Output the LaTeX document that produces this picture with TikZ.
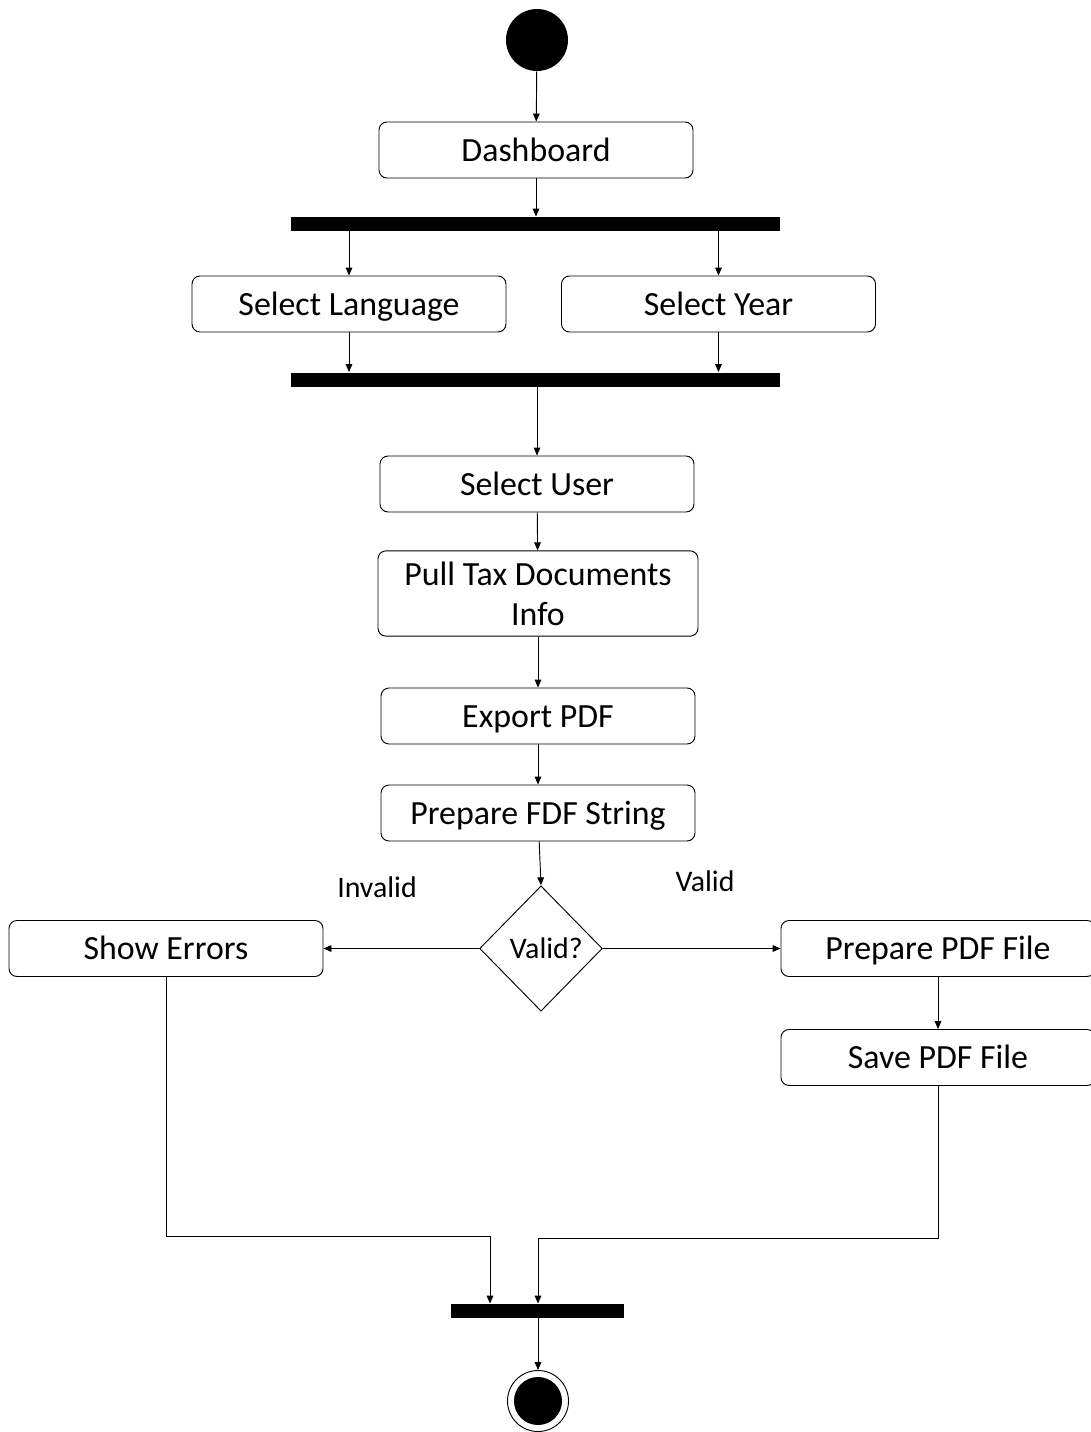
\documentclass[tikz,border=0pt]{standalone}
\usepackage{fontspec}
\setmainfont{Carlito}
\usepackage{tikz}
\usetikzlibrary{positioning,shapes.geometric,arrows.meta}

\begin{document}
\begin{tikzpicture}[x=0.75pt,y=0.75pt,yscale=-1,xscale=1,
    line width=0.7pt, >={Triangle[length=6pt,width=5pt]},
    box/.style={draw, rounded corners=6pt, minimum width=235.5pt, minimum height=42pt,
                inner sep=0.75pt, align=center, font=\fontsize{25.4}{30}\selectfont},
    act/.style={box, text height=19.5pt, text depth=2.5pt},
    bar/.style={fill=black, inner sep=0pt, minimum height=10.5pt},
    choice/.style={draw, diamond, inner sep=0pt, minimum width=92pt, minimum height=94pt,
                font=\fontsize{22.4}{27}\selectfont},
    lbl/.style={inner sep=0.75pt, font=\fontsize{22.4}{27}\selectfont}]
    \useasboundingbox (0,0) rectangle (1091,1432);

    % start / end
    \node [circle, fill=black, inner sep=0pt, minimum size=46.5pt] (start) at (537,40) {};
    \node [circle, draw, inner sep=0pt, minimum size=45.75pt] (stop) at (538,1401) {};
    \fill (stop) circle (18pt);

    % actions
    \node [act] (dash) at (536,150) {Dashboard};
    \node [bar, minimum width=366.75pt] (fork) at (535.5,224) {};
    \node [act] (lang) at (349,304) {Select Language};
    \node [act] (year) at (718.5,304) {Select Year};
    \node [bar, minimum width=366.75pt] (join) at (535.5,379.5) {};
    \node [act] (user) at (537,484) {Select User};
    \node [box, minimum width=240pt, minimum height=64pt] (pull) at (538,593.5) {Pull Tax Documents\\Info};
    \node [act] (export) at (538,716) {Export PDF};
    \node [act] (fdf) at (538,813) {Prepare FDF String};
    \node [choice] (valid) at (541,948.5) {\hspace{8pt}Valid?};
    \node [act] (errors) at (166,948.5) {Show Errors};
    \node [act] (prep) at (938,948.5) {Prepare PDF File};
    \node [act] (save) at (938,1057.5) {Save PDF File};
    \node [bar, minimum width=129.75pt] (merge) at (537.5,1311) {};

    % guard labels
    \node [lbl] (invalidlbl) at (377,887) {Invalid};
    \node [lbl] (validlbl) at (705,881) {Valid};

    % turning points
    \coordinate (errturn) at (490,1236);
    \coordinate (saveturn) at (538,1238);

    % flows
    \draw [->] (start) -- (dash);
    \draw [->] (dash) -- (dash.south |- fork.north);
    \draw [->] (fork.south -| lang.north) -- (lang);
    \draw [->] (fork.south -| year.north) -- (year);
    \draw [->] (lang) -- (lang.south |- join.north);
    \draw [->] (year) -- (year.south |- join.north);
    \draw [->] (join.south -| user.north) -- (user);
    \draw [->] (user) -- (pull);
    \draw [->] (pull) -- (export);
    \draw [->] (export) -- (fdf);
    \draw [->] (fdf) -- (valid.north);
    \draw [->] (valid.west) -- (errors);
    \draw [->] (valid.east) -- (prep);
    \draw [->] (prep) -- (save);
    \draw [->] (errors) |- (errturn) -- (errturn |- merge.north);
    \draw [->] (save) |- (saveturn) -- (saveturn |- merge.north);
    \draw [->] (merge.south -| stop.north) -- (stop);
\end{tikzpicture}
\end{document}
